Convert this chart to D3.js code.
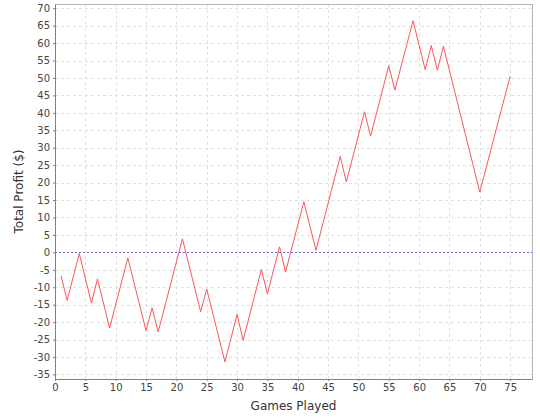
<!DOCTYPE html>
<html>
<head>
<meta charset="utf-8">
<script src="https://cdn.jsdelivr.net/npm/d3@7"></script>
<style>
  body { margin: 0; background: #fff; }
  svg { display: block; font-family: "DejaVu Sans", sans-serif; }
</style>
</head>
<body>
<svg id="chart"></svg>
<script>
// turning points of the profit line (game number, total profit)
const games   = [1, 2, 4, 6, 7, 9, 12, 15, 16, 17, 21, 24, 25, 28, 30, 31, 34, 35, 37, 38, 41, 43, 47, 48, 51, 52, 55, 56, 59, 61, 62, 63, 64, 70, 75];
const profits = [-6.7, -13.8, -0.3, -14.5, -7.6, -21.7, -1.6, -22.4, -15.9, -22.8, 3.9, -17, -10.5, -31.4, -17.8, -25.2, -4.9, -11.9, 1.6, -5.6, 14.5, 0.6, 27.5, 20.2, 40.3, 33.3, 53.5, 46.5, 66.4, 52.4, 59.3, 52.2, 59.1, 17.3, 50.5];
const xTicks = d3.range(0, 80, 5);
const yTicks = d3.range(-35, 71, 5);

const width = 540, height = 420;
const margin = { top: 4, right: 8, bottom: 41, left: 55 };

const svg = d3.select("#chart").attr("width", width).attr("height", height);
const w = width - margin.left - margin.right;
const h = height - margin.top - margin.bottom;

const x = d3.scaleLinear().domain([0, 78.6]).range([0, w]);
const y = d3.scaleLinear().domain([-36.3, 71.2]).range([h, 0]);

const g = svg.append("g").attr("transform", `translate(${margin.left},${margin.top})`);

// grid
g.append("g").selectAll("line").data(xTicks.filter(d => d > 0)).join("line")
    .attr("x1", d => Math.round(x(d)) + 0.5).attr("x2", d => Math.round(x(d)) + 0.5)
    .attr("y1", 0).attr("y2", h)
    .attr("stroke", "#e0e0e0").attr("stroke-dasharray", "3,3");
g.append("g").selectAll("line").data(yTicks).join("line")
    .attr("y1", d => Math.round(y(d)) + 0.5).attr("y2", d => Math.round(y(d)) + 0.5)
    .attr("x1", 0).attr("x2", w)
    .attr("stroke", "#e0e0e0").attr("stroke-dasharray", "3,3");

// plot border (top/right)
g.append("rect").attr("x", 0.5).attr("y", 0.5).attr("width", w).attr("height", h)
    .attr("fill", "none").attr("stroke", "#b4b4b4");

// zero marker
g.append("line")
    .attr("x1", 0).attr("x2", w)
    .attr("y1", Math.round(y(0)) + 0.5).attr("y2", Math.round(y(0)) + 0.5)
    .attr("stroke", "#6a6aff").attr("stroke-dasharray", "2,2");

// profit line
g.append("path")
    .datum(games.map((d, i) => [d, profits[i]]))
    .attr("fill", "none")
    .attr("stroke", "#ff5555")
    .attr("stroke-width", 1)
    .attr("d", d3.line().x(d => x(d[0])).y(d => y(d[1])));

// axes
const xAxis = g.append("g").attr("transform", `translate(0,${h})`)
    .call(d3.axisBottom(x).tickValues(xTicks).tickSizeInner(2).tickSizeOuter(0).tickPadding(3));
const yAxis = g.append("g")
    .call(d3.axisLeft(y).tickValues(yTicks).tickSizeInner(2).tickSizeOuter(0).tickPadding(3));

[xAxis, yAxis].forEach(a => {
    a.select(".domain").attr("stroke", "#808080");
    a.selectAll(".tick line").attr("stroke", "#808080");
    a.selectAll("text").attr("fill", "#444").style("font-size", "10px")
        .style("font-family", "'DejaVu Sans', sans-serif");
});
yAxis.selectAll("text").text(d => d < 0 ? "-" + Math.abs(d) : d);

// axis labels
svg.append("text")
    .attr("x", margin.left + w / 2).attr("y", 410)
    .attr("text-anchor", "middle")
    .style("font-size", "12px").attr("fill", "#333")
    .text("Games Played");

svg.append("text")
    .attr("transform", `translate(23,${margin.top + h / 2}) rotate(-90)`)
    .attr("text-anchor", "middle")
    .style("font-size", "12px").attr("fill", "#333")
    .text("Total Profit ($)");
</script>
</body>
</html>
